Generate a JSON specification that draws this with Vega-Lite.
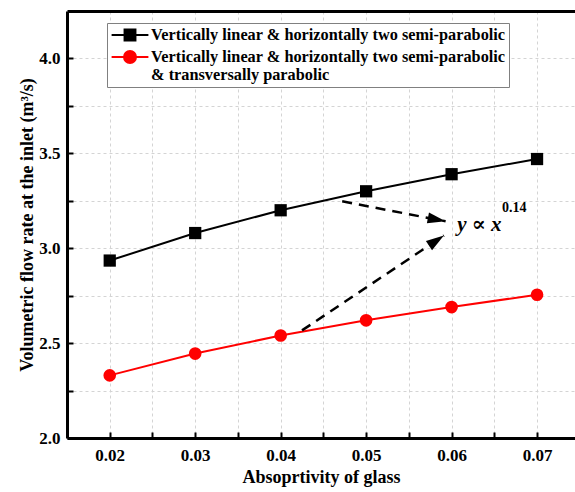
{
  "$schema": "https://vega.github.io/schema/vega-lite/v6.json",
  "width": 508,
  "height": 427,
  "autosize": {"type": "none"},
  "padding": {"left": 67, "top": 11, "right": 0, "bottom": 54},
  "background": "white",
  "config": {
    "view": {"stroke": null},
    "font": "Liberation Serif",
    "text": {"font": "Liberation Serif"},
    "axis": {
      "labelFont": "Liberation Serif",
      "labelFontSize": 17,
      "labelFontWeight": "bold",
      "labelColor": "black",
      "titleFont": "Liberation Serif",
      "titleFontSize": 18,
      "titleFontWeight": "bold",
      "titleColor": "black",
      "domainColor": "black",
      "domainWidth": 3,
      "ticks": true,
      "tickColor": "black",
      "tickWidth": 2,
      "tickSize": -6,
      "grid": true,
      "gridColor": "#d4d4d4",
      "gridDash": [3, 3],
      "gridWidth": 1
    }
  },
  "datasets": {
    "series": [
      {"absorptivity": 0.02, "flow": 2.935, "case": "Vertically linear & horizontally two semi-parabolic"},
      {"absorptivity": 0.03, "flow": 3.08, "case": "Vertically linear & horizontally two semi-parabolic"},
      {"absorptivity": 0.04, "flow": 3.2, "case": "Vertically linear & horizontally two semi-parabolic"},
      {"absorptivity": 0.05, "flow": 3.3, "case": "Vertically linear & horizontally two semi-parabolic"},
      {"absorptivity": 0.06, "flow": 3.39, "case": "Vertically linear & horizontally two semi-parabolic"},
      {"absorptivity": 0.07, "flow": 3.47, "case": "Vertically linear & horizontally two semi-parabolic"},
      {"absorptivity": 0.02, "flow": 2.33, "case": "Vertically linear & horizontally two semi-parabolic & transversally parabolic"},
      {"absorptivity": 0.03, "flow": 2.445, "case": "Vertically linear & horizontally two semi-parabolic & transversally parabolic"},
      {"absorptivity": 0.04, "flow": 2.54, "case": "Vertically linear & horizontally two semi-parabolic & transversally parabolic"},
      {"absorptivity": 0.05, "flow": 2.62, "case": "Vertically linear & horizontally two semi-parabolic & transversally parabolic"},
      {"absorptivity": 0.06, "flow": 2.69, "case": "Vertically linear & horizontally two semi-parabolic & transversally parabolic"},
      {"absorptivity": 0.07, "flow": 2.755, "case": "Vertically linear & horizontally two semi-parabolic & transversally parabolic"}
    ],
    "arrows": [
      {"arrow": "upper", "x": 0.0472, "y": 3.247, "x2": 0.0593, "y2": 3.142},
      {"arrow": "lower", "x": 0.0425, "y": 2.567, "x2": 0.0591, "y2": 3.067}
    ]
  },
  "resolve": {"axis": {"x": "independent"}},
  "layer": [
    {
      "data": {"name": "series"},
      "mark": {"type": "line", "strokeWidth": 2},
      "encoding": {
        "x": {
          "field": "absorptivity", "type": "quantitative",
          "scale": {"domain": [0.015, 0.07444], "nice": false, "zero": false},
          "axis": {
            "orient": "bottom",
            "title": "Absoprtivity of glass",
            "titlePadding": 5,
            "values": [0.02, 0.025, 0.03, 0.035, 0.04, 0.045, 0.05, 0.055, 0.06, 0.065, 0.07],
            "labelExpr": "round(datum.value*200)%2==0 ? format(datum.value,'.2f') : ''",
            "labelFont": "Liberation Serif",
            "labelPadding": 15
          }
        },
        "y": {
          "field": "flow", "type": "quantitative",
          "scale": {"domain": [2.0, 4.25], "nice": false, "zero": false},
          "axis": {
            "title": "Volumetric flow rate at the inlet (m³/s)",
            "titlePadding": 2,
            "values": [2.0, 2.25, 2.5, 2.75, 3.0, 3.25, 3.5, 3.75, 4.0],
            "labelExpr": "(datum.value*4)%2==0 ? format(datum.value,'.1f') : ''",
            "labelFont": "Liberation Serif",
            "labelPadding": 13
          }
        },
        "color": {
          "field": "case", "type": "nominal",
          "scale": {
            "domain": ["Vertically linear & horizontally two semi-parabolic", "Vertically linear & horizontally two semi-parabolic & transversally parabolic"],
            "range": ["#000000", "#ff0000"]
          },
          "legend": {
            "orient": "none", "legendX": 40, "legendY": 12,
            "title": null, "direction": "vertical",
            "padding": 3, "strokeColor": "#808080", "fillColor": "white",
            "symbolSize": 256, "symbolStrokeWidth": 2, "symbolOffset": 11,
            "labelOffset": 12, "labelFontSize": 16.3, "labelFontWeight": "bold",
            "labelFont": "Liberation Serif", "labelColor": "black", "labelLimit": 0,
            "rowPadding": 2,
            "labelExpr": "indexof(datum.label,'transversally') > 0 ? [substring(datum.label,0,51), substring(datum.label,52)] : datum.label",
            "encode": {
              "symbols": {"update": {
                "shape": {"signal": "indexof(datum.value,'transversally') > 0 ? 'M-2.3,0H2.3M0.75,0A0.75,0.75,0,1,1,-0.75,0A0.75,0.75,0,1,1,0.75,0Z' : 'M-2.3,0H2.3M-0.68,-0.68H0.68V0.68H-0.68Z'"},
                "fill": {"signal": "indexof(datum.value,'transversally') > 0 ? '#ff0000' : '#000000'"},
                "stroke": {"signal": "indexof(datum.value,'transversally') > 0 ? '#ff0000' : '#000000'"},
                "opacity": {"value": 1}
              }}
            }
          }
        }
      }
    },
    {
      "data": {"name": "series"},
      "transform": [{"filter": "indexof(datum.case,'transversally') < 0"}],
      "mark": {"type": "point", "filled": true, "size": 150, "opacity": 1, "shape": "square", "color": "#000000"},
      "encoding": {
        "x": {"field": "absorptivity", "type": "quantitative", "axis": null},
        "y": {"field": "flow", "type": "quantitative"}
      }
    },
    {
      "data": {"name": "series"},
      "transform": [{"filter": "indexof(datum.case,'transversally') > 0"}],
      "mark": {"type": "point", "filled": true, "size": 160, "opacity": 1, "shape": "circle", "color": "#ff0000"},
      "encoding": {
        "x": {"field": "absorptivity", "type": "quantitative", "axis": null},
        "y": {"field": "flow", "type": "quantitative"}
      }
    },
    {
      "data": {"name": "arrows"},
      "mark": {"type": "rule", "strokeWidth": 2.5, "strokeDash": [10, 7], "color": "black"},
      "encoding": {
        "x": {"field": "x", "type": "quantitative", "axis": null},
        "y": {"field": "y", "type": "quantitative"},
        "x2": {"field": "x2"},
        "y2": {"field": "y2"}
      }
    },
    {
      "data": {"name": "arrows"},
      "transform": [{"filter": "datum.arrow == 'upper'"}],
      "mark": {"type": "point", "filled": true, "opacity": 1, "color": "black", "size": 400, "angle": 101, "shape": "M0,0L-0.55,1.8L0.55,1.8Z"},
      "encoding": {
        "x": {"field": "x2", "type": "quantitative", "axis": null},
        "y": {"field": "y2", "type": "quantitative"}
      }
    },
    {
      "data": {"name": "arrows"},
      "transform": [{"filter": "datum.arrow == 'lower'"}],
      "mark": {"type": "point", "filled": true, "opacity": 1, "color": "black", "size": 400, "angle": 56, "shape": "M0,0L-0.55,1.8L0.55,1.8Z"},
      "encoding": {
        "x": {"field": "x2", "type": "quantitative", "axis": null},
        "y": {"field": "y2", "type": "quantitative"}
      }
    },
    {
      "data": {"values": [{"x": 0.06065, "y": 3.093, "label": "y ∝ x"}]},
      "mark": {"type": "text", "font": "Liberation Serif, DejaVu Serif, serif", "fontSize": 21, "fontStyle": "italic", "fontWeight": "bold", "align": "left", "baseline": "alphabetic", "color": "black"},
      "encoding": {
        "x": {"field": "x", "type": "quantitative", "axis": null},
        "y": {"field": "y", "type": "quantitative"},
        "text": {"field": "label"}
      }
    },
    {
      "data": {"values": [{"x": 0.0659, "y": 3.19, "label": "0.14"}]},
      "mark": {"type": "text", "font": "Liberation Serif, serif", "fontSize": 14, "fontWeight": "bold", "align": "left", "baseline": "alphabetic", "color": "black"},
      "encoding": {
        "x": {
          "field": "x", "type": "quantitative",
          "axis": {"orient": "top", "labels": false, "ticks": false, "grid": false, "title": null, "domainWidth": 3, "domainColor": "black"}
        },
        "y": {"field": "y", "type": "quantitative"},
        "text": {"field": "label"}
      }
    }
  ]
}
